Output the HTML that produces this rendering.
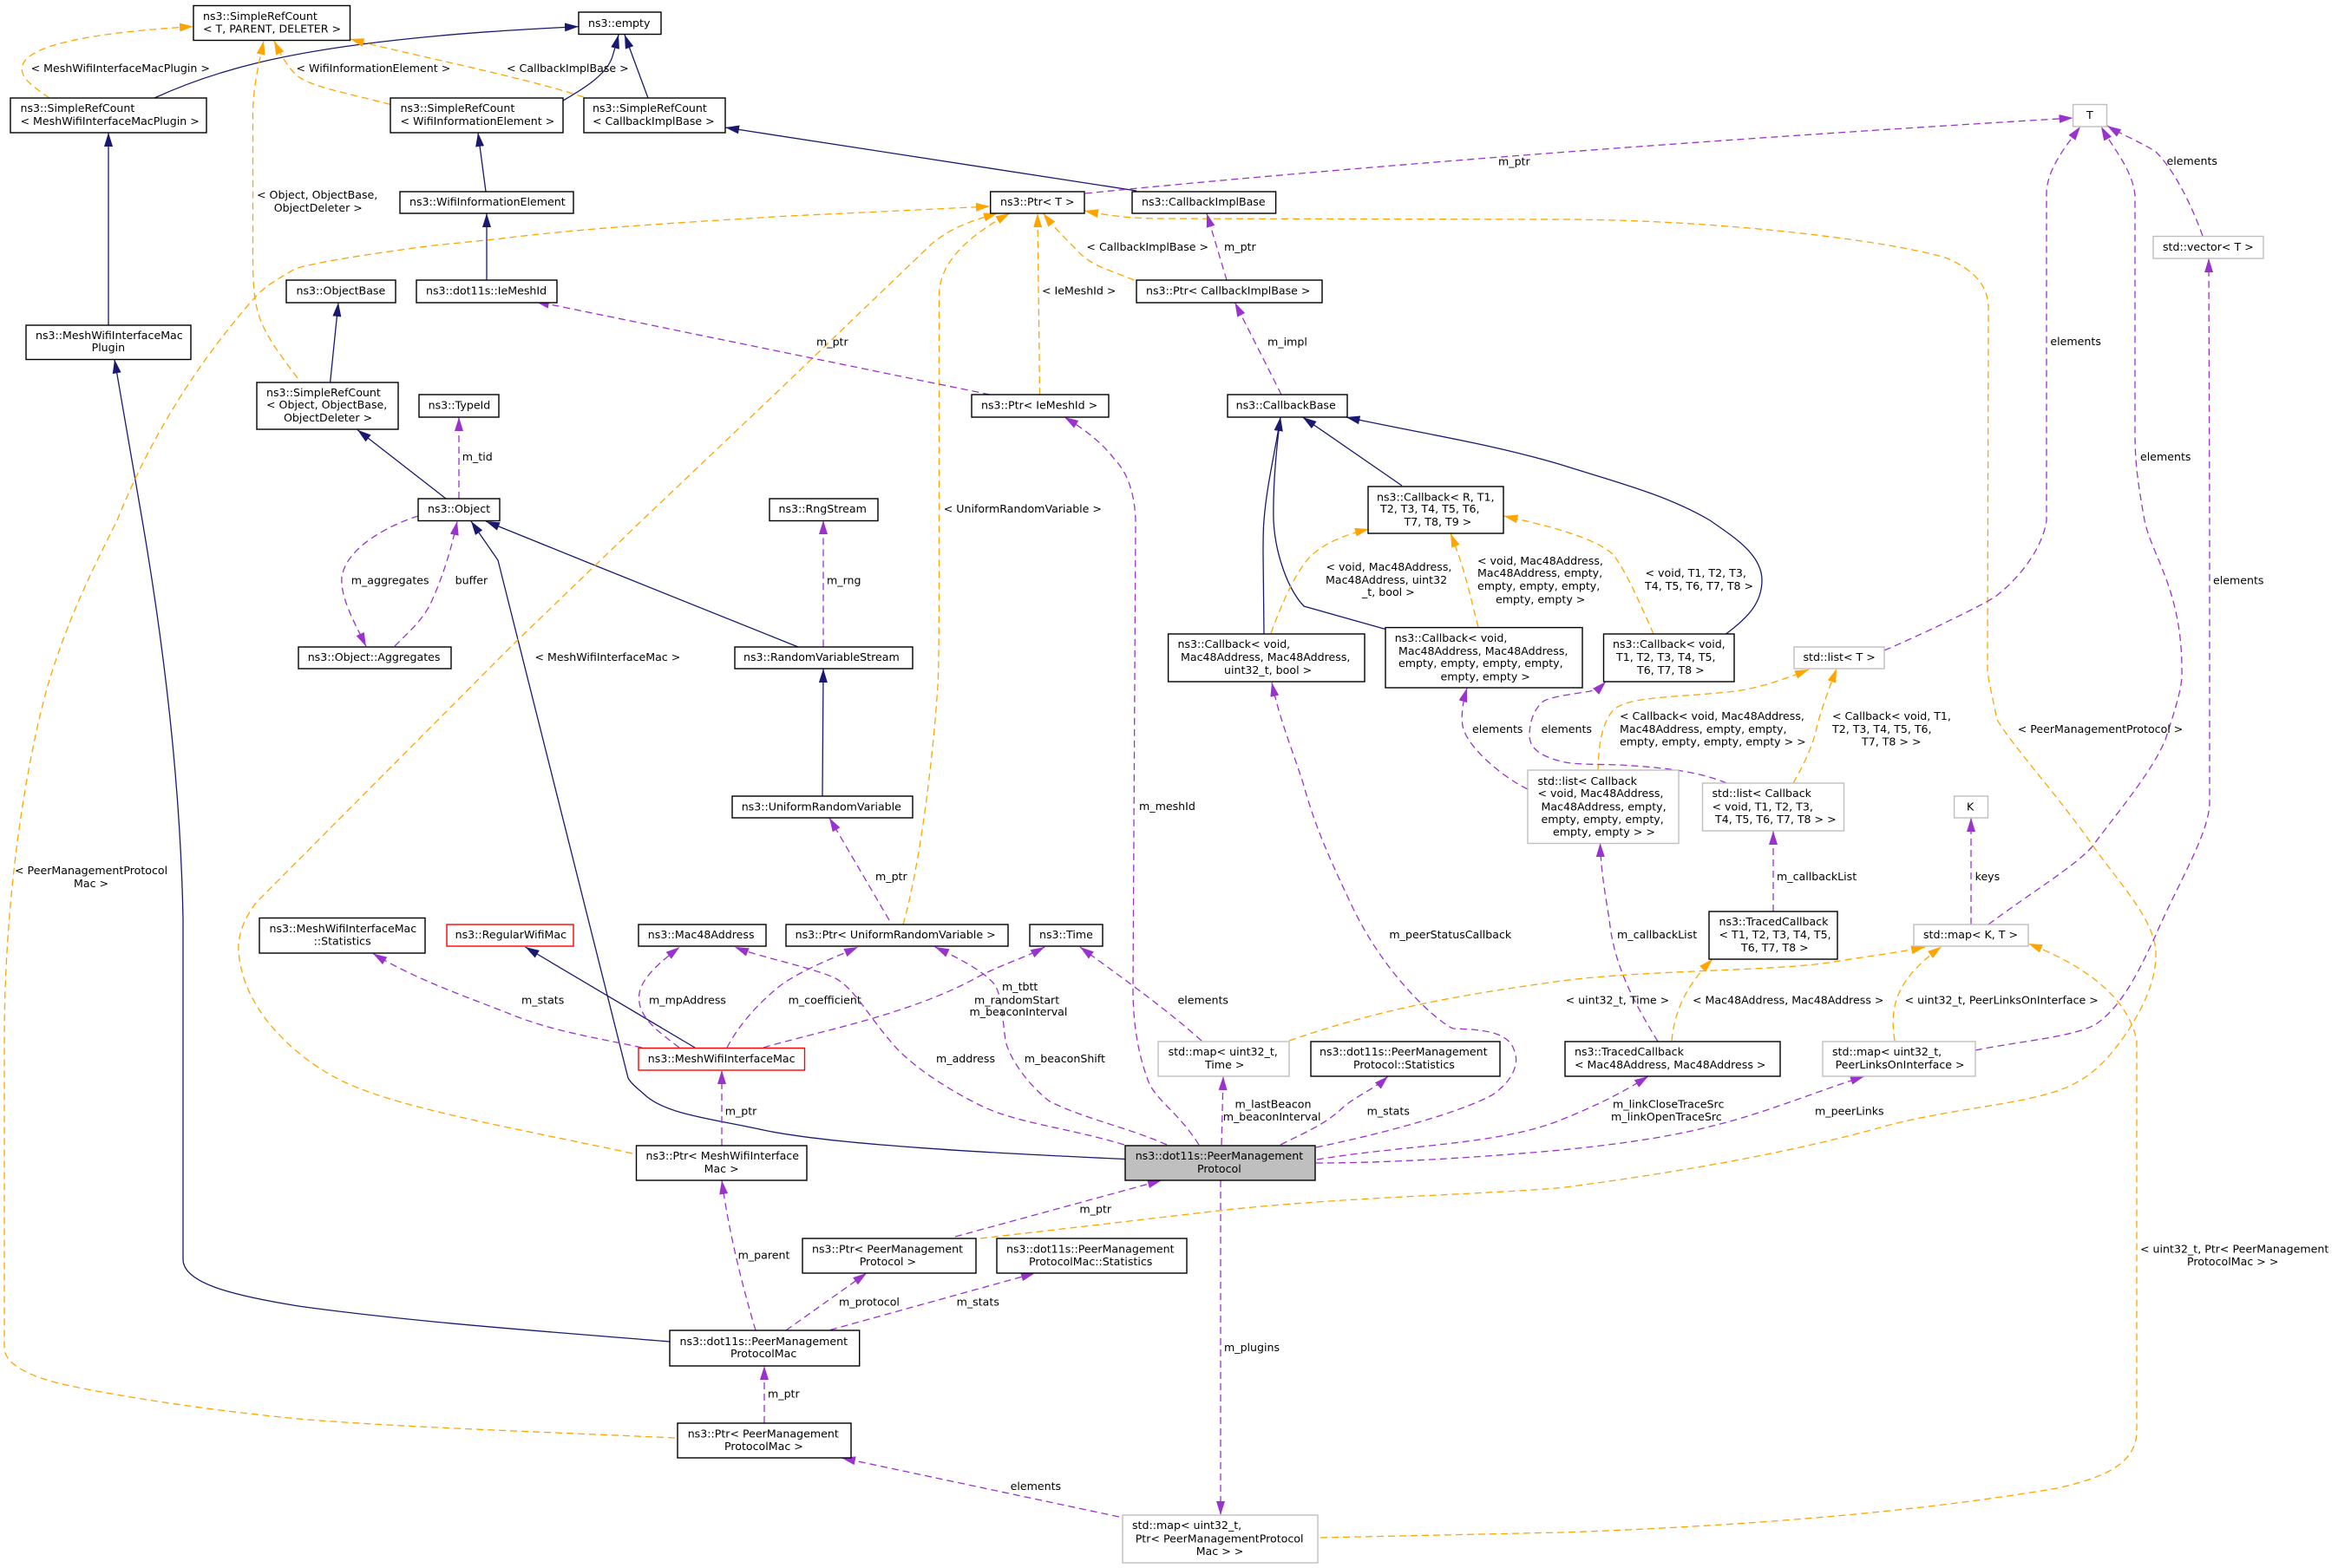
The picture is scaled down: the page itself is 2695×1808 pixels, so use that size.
<!DOCTYPE html>
<html>
<head>
<meta charset="utf-8">
<title>ns3::dot11s::PeerManagementProtocol</title>
<style>
html,body{margin:0;padding:0;background:#fff;width:2695px;height:1808px;overflow:hidden}
svg{display:block}
text{font-family:"DejaVu Sans","Liberation Sans",sans-serif;font-size:12.6px;fill:#000}
.e path{fill:none;stroke-width:1.3}
.nv path{stroke:#191970;marker-end:url(#mn)}
.or path{stroke:#ffa500;stroke-dasharray:8,5;marker-end:url(#mo)}
.pu path{stroke:#9a32cd;stroke-dasharray:8,5;marker-end:url(#mp)}
.b rect{fill:#fff;stroke:#000;stroke-width:1.4}
.g rect{fill:#fff;stroke:#bfbfbf;stroke-width:1.4}
.r rect{fill:#fff;stroke:#ff0000;stroke-width:1.4}
</style>
</head>
<body>
<svg xmlns="http://www.w3.org/2000/svg" width="2695" height="1808" viewBox="0 0 2695 1808">
<defs>
<marker id="mn" markerUnits="userSpaceOnUse" markerWidth="17" markerHeight="11" refX="16" refY="5" orient="auto" viewBox="0 0 17 11"><path d="M0,0 L16,5 L0,10 Z" fill="#191970"/></marker>
<marker id="mo" markerUnits="userSpaceOnUse" markerWidth="17" markerHeight="11" refX="16" refY="5" orient="auto" viewBox="0 0 17 11"><path d="M0,0 L16,5 L0,10 Z" fill="#ffa500"/></marker>
<marker id="mp" markerUnits="userSpaceOnUse" markerWidth="17" markerHeight="11" refX="16" refY="5" orient="auto" viewBox="0 0 17 11"><path d="M0,0 L16,5 L0,10 Z" fill="#9a32cd"/></marker>
</defs>

<g class="e nv">
<path d="M178,113 C250,80 330,60 459,46 C530,38 600,34 667,30.6"/>
<path d="M649,116 C675,101 700,85 706,65 C709,55 711,48 713,40"/>
<path d="M747,113 L720,40"/>
<path d="M1310,220 L836,147"/>
<path d="M560,221 L551,153"/>
<path d="M561,323 L561,246"/>
<path d="M125,375 L125,153"/>
<path d="M772,1547 C640,1536 480,1525 344,1506 C270,1494 211,1480 211,1452 L211,1060 C208,900 188,740 164,600 L132,414.5"/>
<path d="M380.6,441 L390,349"/>
<path d="M514,575 L412,495.6"/>
<path d="M920,746 L686,652 L560,601"/>
<path d="M948,918 L949,771"/>
<path d="M1297,1336.5 C1150,1330 960,1320 880,1303 C820,1290 770,1285 745,1264 C735,1255 728,1250 724,1243 L574,646 L543,601"/>
<path d="M801,1208 L605.6,1092"/>
<path d="M1616,560 L1501.6,481"/>
<path d="M1989.5,731 C2015,712 2031,695 2031,669 C2031,640 2000,620 1971,600 C1920,570 1860,555 1800,536 C1720,512 1640,500 1551.5,481"/>
<path d="M1457,731 L1456,638 C1456,620 1456,610 1457,600 C1460,560 1470,520 1476,481"/>
<path d="M1597,725.5 L1503,699 C1485,680 1470,640 1468,600 C1467,560 1472,510 1476,481"/>
</g>

<g class="e or">
<path d="M57,113 C35,98 22,88 26,75 C35,48 130,36 223,30.6"/>
<path d="M450,120.5 C400,107 355,100 340,85 C330,75 322,60 316,47"/>
<path d="M673,112 C600,88 480,65 403.5,45"/>
<path d="M343,436 C320,405 300,380 295,350 C291,330 291.5,300 291.5,280 L291.5,130 C292,100 298,75 304,47"/>
<path d="M729,1330 C600,1302 470,1280 402,1250 C350,1227 280,1170 275,1097 C274,1080 280,1060 296,1040 L591,743.5 L740,600 L900,448 L1072,283 C1095,262 1125,253 1150,246"/>
<path d="M1041,1066 C1060,1000 1075,880 1081,791 C1082.5,760 1082.5,700 1082.5,600 L1082.5,340 C1083,300 1120,270 1164,246"/>
<path d="M1198.5,455 L1196,246"/>
<path d="M1307.5,323 C1270,308 1255,305 1239,286 C1225,272 1215,262 1202.5,246"/>
<path d="M1130,1428 L1405,1396 C1550,1380 1700,1378 1800,1369.5 C1950,1350 2080,1325 2171,1299 C2250,1278 2320,1275 2371,1258 C2410,1245 2430,1220 2445,1200 C2470,1165 2486,1130 2485,1098 C2484,1060 2440,1015 2411,973 C2370,915 2320,860 2302,830 C2296,800 2291,780 2291,772 L2292,355 C2292,320 2260,305 2245,298 C2190,280 2000,254 1806,253 L1340,252 C1300,252 1275,248 1250,243"/>
<path d="M1522,1773 L1800,1767 C2000,1760 2200,1745 2371,1716 C2420,1705 2463,1690 2463,1650 L2463,1200 C2455,1160 2420,1120 2338,1088"/>
<path d="M1486,1200 C1600,1160 1700,1145 1800,1131 C1900,1118 2050,1120 2114,1109 C2150,1103 2190,1098 2219,1092"/>
<path d="M1927,1200 C1930,1170 1940,1140 1974,1106"/>
<path d="M2184,1200 C2178,1160 2185,1130 2238,1091.5"/>
<path d="M1842,889 C1843,860 1845,840 1857,822 C1870,802 1930,805 2000,797 C2030,793 2060,782 2085,772"/>
<path d="M2067,903 C2080,880 2090,860 2095,835 C2102,810 2110,790 2117,771"/>
<path d="M1465,730 C1480,690 1490,670 1500,655 C1515,630 1545,618 1578,610"/>
<path d="M1704,723 C1695,690 1690,660 1672,615"/>
<path d="M1906,731 C1890,695 1875,660 1860,640 C1840,620 1780,605 1733.5,595"/>
<path d="M778,1658 C600,1650 450,1645 344,1636 C230,1625 140,1610 86,1599 C40,1590 6,1575 5,1555 L5,1200 C5,1000 40,840 57,784 C80,710 105,660 135,600 C155,550 200,450 292,345 C305,330 315,325 340,310 C360,303 430,292 500,283 L574,275.5 C680,262 800,256 900,249.5 L1141,238"/>
</g>

<g class="e pu">
<path d="M1251,223 C1500,198 1900,165 2389.6,136"/>
<path d="M1414,323 L1391,246"/>
<path d="M1477,455 L1423.5,349"/>
<path d="M1141,455 L617,347.5"/>
<path d="M455,745 C475,725 490,712 499,690 C510,665 520,635 527,601"/>
<path d="M482,595 C450,605 400,630 394,665 C392,690 410,720 422,745.5"/>
<path d="M529,575 L529,481"/>
<path d="M949,745.4 L949,600"/>
<path d="M1025,1061 L956,943"/>
<path d="M1382,1320 C1360,1285 1335,1270 1325,1250 C1315,1225 1306,1190 1306,1140 L1309,600 C1308,570 1300,545 1285,530 C1270,510 1250,495 1227,481"/>
<path d="M1517,1323 C1580,1310 1680,1285 1721,1262 C1745,1245 1752,1225 1745,1210 C1738,1190 1710,1187 1675,1186 C1660,1180 1600,1130 1560,1048 C1530,985 1515,950 1503,906 C1490,865 1475,830 1466,787"/>
<path d="M740,1208 C690,1197 640,1190 590,1170 C540,1150 480,1130 430,1099.5"/>
<path d="M783,1208 C760,1190 737,1175 736.5,1151 C736,1130 760,1110 783.5,1092"/>
<path d="M838,1208 C850,1185 870,1160 900,1136 C925,1118 960,1105 989,1092"/>
<path d="M880,1208 C940,1190 1050,1170 1130,1125 C1160,1110 1180,1105 1204,1092"/>
<path d="M1296,1320 C1230,1300 1170,1295 1129,1274 C1090,1255 1045,1225 1026,1200 C1000,1170 985,1140 963,1128 C935,1115 880,1105 847,1092"/>
<path d="M1345,1320 C1300,1300 1250,1290 1210,1270 C1190,1255 1165,1225 1159,1200 C1155,1170 1155,1150 1147,1136 C1135,1120 1105,1105 1078,1092"/>
<path d="M1385,1200 C1340,1160 1290,1125 1245,1092"/>
<path d="M1408,1320 L1410,1241"/>
<path d="M1476,1320 C1510,1303 1530,1295 1550,1275 C1570,1260 1585,1255 1600,1241"/>
<path d="M1518,1337 C1620,1320 1730,1320 1800,1291 C1840,1275 1870,1260 1900,1241"/>
<path d="M1517,1341 C1600,1341 1700,1335 1800,1326 C1860,1320 1920,1312 1971,1299 C2030,1285 2090,1260 2149,1241"/>
<path d="M1101,1426 L1339,1361"/>
<path d="M1407,1361 L1407,1747"/>
<path d="M1290,1749 L970,1681"/>
<path d="M881,1641 L881,1575"/>
<path d="M871,1534 C855,1480 840,1420 832,1361"/>
<path d="M832,1321 L832,1234"/>
<path d="M906,1534 L999,1468"/>
<path d="M957,1533.5 L1193,1468"/>
<path d="M2172,750 C2230,725 2290,695 2300,688 C2330,665 2355,630 2359,600 L2359,222 C2360,195 2380,170 2398,146"/>
<path d="M2292,1066 C2340,1030 2390,1000 2411,977 C2450,925 2480,890 2496,853 C2510,810 2516,790 2515,772 C2515,680 2480,640 2472,600 C2463,550 2461,530 2461,497 L2461,225 C2458,195 2435,170 2422,146"/>
<path d="M2539,272 C2520,220 2500,190 2485,175 C2470,165 2445,155 2429,145"/>
<path d="M2277,1211 C2330,1200 2400,1195 2420,1178 C2450,1155 2470,1110 2485,1078 C2510,1020 2547,960 2547,925 L2547,600 L2546,298"/>
<path d="M1761,910 C1730,895 1690,860 1686,837 C1684,825 1686,810 1691,793.5"/>
<path d="M1990,903 C1960,890 1920,885 1867,882 C1840,881 1815,882 1800,878 C1780,873 1763,865 1763,848 C1763,830 1770,815 1780,808 C1790,803 1815,800 1833,797 C1840,795 1845,792 1851,786"/>
<path d="M2044,1051 L2044,958"/>
<path d="M1911,1201 C1880,1150 1860,1110 1855,1060 C1850,1030 1845,1000 1844.5,972"/>
<path d="M2272,1066 L2272,943"/>
</g>

<g class="b">
<rect x="223" y="6.5" width="180.5" height="40"/>
<rect x="667" y="14" width="95" height="25.5"/>
<rect x="12" y="113" width="226" height="40"/>
<rect x="450" y="113" width="199" height="40"/>
<rect x="673" y="113" width="163" height="40"/>
<rect x="461" y="221" width="200" height="25"/>
<rect x="330" y="323" width="126" height="26"/>
<rect x="480" y="323" width="162" height="26"/>
<rect x="30" y="375" width="190" height="39.5"/>
<rect x="296" y="441" width="163" height="54"/>
<rect x="483" y="455" width="92" height="26"/>
<rect x="482" y="575" width="94" height="25.5"/>
<rect x="1141.7" y="221" width="108.3" height="25"/>
<rect x="1305" y="221" width="165.6" height="25"/>
<rect x="1310" y="323" width="214" height="26"/>
<rect x="1120" y="455" width="158" height="26"/>
<rect x="1415" y="455" width="138" height="26"/>
<rect x="1577" y="561" width="156" height="54"/>
<rect x="887" y="575" width="125" height="25.5"/>
<rect x="344" y="746" width="176" height="25"/>
<rect x="847" y="746" width="205" height="25"/>
<rect x="844" y="918" width="208" height="25"/>
<rect x="299" y="1058.5" width="191" height="40.5"/>
<rect x="736" y="1066" width="147" height="25"/>
<rect x="906" y="1066" width="256" height="25"/>
<rect x="1187" y="1066" width="84" height="25"/>
<rect x="1346.6" y="731" width="226.4" height="55"/>
<rect x="1597" y="723.6" width="227" height="69.4"/>
<rect x="1848.5" y="731" width="150.5" height="55"/>
<rect x="1970" y="1051" width="148" height="55"/>
<rect x="733.5" y="1321" width="196.5" height="40"/>
<rect x="772" y="1534" width="218.7" height="41"/>
<rect x="781" y="1641" width="200" height="40"/>
<rect x="1511" y="1201" width="218" height="40"/>
<rect x="925" y="1428" width="200" height="40"/>
<rect x="1149" y="1428" width="219" height="40"/>
<rect x="1804" y="1201" width="248" height="40"/>
</g>
<g class="g">
<rect x="2389.6" y="120.5" width="38.9" height="25.5"/>
<rect x="2482" y="272.5" width="127" height="25.5"/>
<rect x="2068" y="746" width="104" height="25"/>
<rect x="1761" y="888" width="174" height="84.5"/>
<rect x="1962.5" y="903" width="163" height="55"/>
<rect x="2252.6" y="918" width="38.9" height="25"/>
<rect x="2206" y="1066" width="132" height="25"/>
<rect x="1335" y="1201" width="151" height="40"/>
<rect x="1294" y="1747" width="225" height="55"/>
<rect x="2101" y="1201" width="176" height="40"/>
</g>
<g class="r">
<rect x="515" y="1066" width="146" height="25"/>
<rect x="736" y="1208.5" width="191.5" height="25.5"/>
</g>
<rect x="1297" y="1321" width="219" height="40" fill="#bfbfbf" stroke="#000" stroke-width="1.4"/>

<g>
<text x="234" y="23">ns3::SimpleRefCount</text>
<text x="234" y="37.5">&lt; T, PARENT, DELETER &gt;</text>
<text x="678" y="31">ns3::empty</text>
<text x="23.5" y="129">ns3::SimpleRefCount</text>
<text x="23.5" y="144">&lt; MeshWifiInterfaceMacPlugin &gt;</text>
<text x="461.5" y="129">ns3::SimpleRefCount</text>
<text x="461.5" y="144">&lt; WifiInformationElement &gt;</text>
<text x="683" y="129">ns3::SimpleRefCount</text>
<text x="683" y="144">&lt; CallbackImplBase &gt;</text>
<text x="472" y="237">ns3::WifiInformationElement</text>
<text x="341.5" y="339.5">ns3::ObjectBase</text>
<text x="491" y="339.5">ns3::dot11s::IeMeshId</text>
<text x="41" y="391">ns3::MeshWifiInterfaceMac</text>
<text x="105.6" y="405">Plugin</text>
<text x="307" y="457">ns3::SimpleRefCount</text>
<text x="307" y="471">&lt; Object, ObjectBase,</text>
<text x="327" y="486">ObjectDeleter &gt;</text>
<text x="493.6" y="471.5">ns3::TypeId</text>
<text x="493" y="591">ns3::Object</text>

<text x="35.6" y="83">&lt; MeshWifiInterfaceMacPlugin &gt;</text>
<text x="341.5" y="83">&lt; WifiInformationElement &gt;</text>
<text x="584" y="83">&lt; CallbackImplBase &gt;</text>
<text x="296" y="229">&lt; Object, ObjectBase,</text>
<text x="315.7" y="244">ObjectDeleter &gt;</text>
<text x="532.7" y="531">m_tid</text>

<text x="1153" y="237">ns3::Ptr&lt; T &gt;</text>
<text x="1316" y="237">ns3::CallbackImplBase</text>
<text x="1727" y="190.5">m_ptr</text>
<text x="1252.4" y="289">&lt; CallbackImplBase &gt;</text>
<text x="1411" y="289">m_ptr</text>
<text x="1321" y="339.5">ns3::Ptr&lt; CallbackImplBase &gt;</text>
<text x="1201" y="339.5">&lt; IeMeshId &gt;</text>
<text x="941" y="398.7">m_ptr</text>
<text x="1461" y="398.7">m_impl</text>
<text x="1131" y="471.5">ns3::Ptr&lt; IeMeshId &gt;</text>
<text x="1424.6" y="471.5">ns3::CallbackBase</text>
<text x="1587" y="577.4">ns3::Callback&lt; R, T1,</text>
<text x="1591" y="591">T2, T3, T4, T5, T6,</text>
<text x="1618.6" y="606">T7, T8, T9 &gt;</text>
<text x="1087.7" y="591">&lt; UniformRandomVariable &gt;</text>
<text x="897.5" y="591">ns3::RngStream</text>

<text x="2405" y="137">T</text>
<text x="2497.5" y="190">elements</text>
<text x="2493" y="289">std::vector&lt; T &gt;</text>
<text x="2363.4" y="398">elements</text>
<text x="2467" y="531">elements</text>

<text x="404.7" y="673.4">m_aggregates</text>
<text x="524.6" y="673.4">buffer</text>
<text x="354.7" y="762">ns3::Object::Aggregates</text>
<text x="616.5" y="762">&lt; MeshWifiInterfaceMac &gt;</text>
<text x="857" y="762">ns3::RandomVariableStream</text>
<text x="854.7" y="934.4">ns3::UniformRandomVariable</text>
<text x="17" y="1008">&lt; PeerManagementProtocol</text>
<text x="85" y="1023">Mac &gt;</text>
<text x="310.5" y="1075">ns3::MeshWifiInterfaceMac</text>
<text x="361.6" y="1089.4">::Statistics</text>
<text x="524.6" y="1082">ns3::RegularWifiMac</text>
<text x="746.8" y="1082">ns3::Mac48Address</text>
<text x="601" y="1157.5">m_stats</text>
<text x="748" y="1157.5">m_mpAddress</text>

<text x="953" y="673.4">m_rng</text>
<text x="916.6" y="1082">ns3::Ptr&lt; UniformRandomVariable &gt;</text>
<text x="1198" y="1082">ns3::Time</text>
<text x="1009" y="1015">m_ptr</text>
<text x="1313" y="934">m_meshId</text>
<text x="1528.5" y="658">&lt; void, Mac48Address,</text>
<text x="1528" y="673">Mac48Address, uint32</text>
<text x="1570" y="686.8">_t, bool &gt;</text>
<text x="1703" y="651">&lt; void, Mac48Address,</text>
<text x="1703" y="665">Mac48Address, empty,</text>
<text x="1703" y="680">empty, empty, empty,</text>
<text x="1724" y="695.6">empty, empty &gt;</text>
<text x="1357.5" y="747">ns3::Callback&lt; void,</text>
<text x="1361" y="762">Mac48Address, Mac48Address,</text>
<text x="1411" y="777">uint32_t, bool &gt;</text>
<text x="1607.7" y="740">ns3::Callback&lt; void,</text>
<text x="1612" y="755">Mac48Address, Mac48Address,</text>
<text x="1612" y="769">empty, empty, empty, empty,</text>
<text x="1660.5" y="784.4">empty, empty &gt;</text>
<text x="1697" y="845">elements</text>
<text x="1776.5" y="845">elements</text>
<text x="1772.5" y="905">std::list&lt; Callback</text>
<text x="1772.5" y="919">&lt; void, Mac48Address,</text>
<text x="1776.5" y="934.4">Mac48Address, empty,</text>
<text x="1776.5" y="949">empty, empty, empty,</text>
<text x="1790" y="963.5">empty, empty &gt; &gt;</text>
<text x="908.6" y="1157.5">m_coefficient</text>
<text x="1155" y="1142">m_tbtt</text>
<text x="1123" y="1157.5">m_randomStart</text>
<text x="1117.5" y="1171">m_beaconInterval</text>
<text x="1357.5" y="1157.5">elements</text>
<text x="1601.4" y="1082">m_peerStatusCallback</text>

<text x="1896.5" y="665">&lt; void, T1, T2, T3,</text>
<text x="1896" y="680">T4, T5, T6, T7, T8 &gt;</text>
<text x="1859" y="747">ns3::Callback&lt; void,</text>
<text x="1863" y="762">T1, T2, T3, T4, T5,</text>
<text x="1887" y="777">T6, T7, T8 &gt;</text>
<text x="2078.5" y="762">std::list&lt; T &gt;</text>
<text x="1867" y="830">&lt; Callback&lt; void, Mac48Address,</text>
<text x="1867" y="845">Mac48Address, empty, empty,</text>
<text x="1867" y="859.5">empty, empty, empty, empty &gt; &gt;</text>
<text x="2112" y="830">&lt; Callback&lt; void, T1,</text>
<text x="2112" y="845">T2, T3, T4, T5, T6,</text>
<text x="2146" y="859.5">T7, T8 &gt; &gt;</text>
<text x="2325.7" y="845">&lt; PeerManagementProtocol &gt;</text>
<text x="2551" y="673.4">elements</text>
<text x="1973.5" y="919">std::list&lt; Callback</text>
<text x="1973.5" y="934.4">&lt; void, T1, T2, T3,</text>
<text x="1977" y="949">T4, T5, T6, T7, T8 &gt; &gt;</text>
<text x="2267" y="934.4">K</text>
<text x="2048" y="1015">m_callbackList</text>
<text x="2276.6" y="1015">keys</text>
<text x="1981.5" y="1067">ns3::TracedCallback</text>
<text x="1981.5" y="1082">&lt; T1, T2, T3, T4, T5,</text>
<text x="2007" y="1097">T6, T7, T8 &gt;</text>
<text x="2217" y="1082">std::map&lt; K, T &gt;</text>
<text x="1864" y="1082">m_callbackList</text>
<text x="1804.6" y="1157.5">&lt; uint32_t, Time &gt;</text>
<text x="1951" y="1157.5">&lt; Mac48Address, Mac48Address &gt;</text>
<text x="2195.6" y="1157.5">&lt; uint32_t, PeerLinksOnInterface &gt;</text>

<text x="746.8" y="1225">ns3::MeshWifiInterfaceMac</text>
<text x="835.7" y="1285.5">m_ptr</text>
<text x="744.5" y="1337">ns3::Ptr&lt; MeshWifiInterface</text>
<text x="811.6" y="1352">Mac &gt;</text>
<text x="850.6" y="1451.5">m_parent</text>
<text x="783.5" y="1551">ns3::dot11s::PeerManagement</text>
<text x="842" y="1565">ProtocolMac</text>
<text x="885" y="1611.6">m_ptr</text>
<text x="792.7" y="1657.5">ns3::Ptr&lt; PeerManagement</text>
<text x="835" y="1672">ProtocolMac &gt;</text>

<text x="1079" y="1225">m_address</text>
<text x="1180.7" y="1225">m_beaconShift</text>
<text x="1346.6" y="1217">std::map&lt; uint32_t,</text>
<text x="1389" y="1232">Time &gt;</text>
<text x="1521" y="1217">ns3::dot11s::PeerManagement</text>
<text x="1560" y="1232">Protocol::Statistics</text>
<text x="1423.5" y="1277.4">m_lastBeacon</text>
<text x="1409.7" y="1292">m_beaconInterval</text>
<text x="1575.6" y="1285.5">m_stats</text>
<text x="1308.7" y="1337">ns3::dot11s::PeerManagement</text>
<text x="1380" y="1352">Protocol</text>
<text x="1244.4" y="1398.4">m_ptr</text>
<text x="936" y="1444.5">ns3::Ptr&lt; PeerManagement</text>
<text x="990.7" y="1459">Protocol &gt;</text>
<text x="1160" y="1444.5">ns3::dot11s::PeerManagement</text>
<text x="1186" y="1459">ProtocolMac::Statistics</text>
<text x="967" y="1505.5">m_protocol</text>
<text x="1102.6" y="1505.5">m_stats</text>
<text x="1411" y="1558">m_plugins</text>
<text x="1164.6" y="1718">elements</text>
<text x="1305" y="1763">std::map&lt; uint32_t,</text>
<text x="1308.7" y="1778.4">Ptr&lt; PeerManagementProtocol</text>
<text x="1378.7" y="1793">Mac &gt; &gt;</text>

<text x="1815" y="1217">ns3::TracedCallback</text>
<text x="1815" y="1232">&lt; Mac48Address, Mac48Address &gt;</text>
<text x="2112" y="1217">std::map&lt; uint32_t,</text>
<text x="2115.6" y="1232">PeerLinksOnInterface &gt;</text>
<text x="1859" y="1277.4">m_linkCloseTraceSrc</text>
<text x="1857" y="1292">m_linkOpenTraceSrc</text>
<text x="2092" y="1285.5">m_peerLinks</text>
<text x="2467" y="1444.5">&lt; uint32_t, Ptr&lt; PeerManagement</text>
<text x="2521" y="1459">ProtocolMac &gt; &gt;</text>
</g>
</svg>
</body>
</html>
